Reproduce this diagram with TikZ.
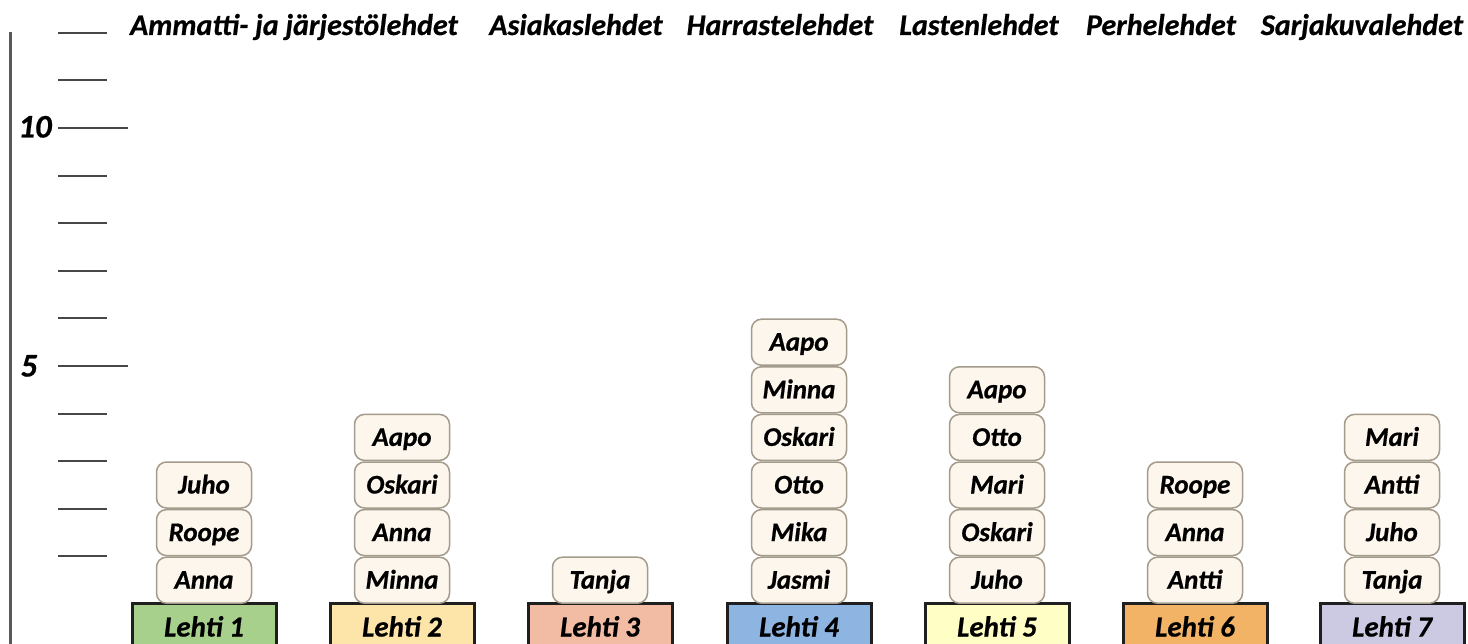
\documentclass[tikz,border=0pt]{standalone}
\usepackage{fontspec}
\setmainfont{Carlito}[BoldItalicFeatures={FakeBold=0.6}]
\definecolor{namefill}{HTML}{FDF6EC}
\definecolor{nameborder}{HTML}{A39B8B}
\definecolor{cA}{HTML}{A8D08D}
\definecolor{cB}{HTML}{FDE4A8}
\definecolor{cC}{HTML}{F2BBA3}
\definecolor{cD}{HTML}{8EB4E2}
\definecolor{cE}{HTML}{FFFEC4}
\definecolor{cF}{HTML}{F2B367}
\definecolor{cG}{HTML}{CCC9E2}
\begin{document}
\begin{tikzpicture}[x=1pt,y=-1pt,
  namebox/.style={draw=nameborder, fill=namefill, rounded corners=10pt, line width=1.5pt,
    minimum width=95pt, minimum height=46pt, inner sep=0pt, text height=17pt, text depth=0pt,
    font=\fontsize{27}{30}\selectfont\bfseries\itshape},
  lehtibox/.style={draw=black!88, line width=3pt, minimum width=144pt, minimum height=48pt,
    inner sep=0pt, text height=19pt, text depth=0pt,
    font=\fontsize{29}{32}\selectfont\bfseries\itshape},
  header/.style={anchor=base, inner sep=0pt, font=\fontsize{30}{33}\selectfont\bfseries\itshape},
  tickline/.style={draw=black!72, line width=2pt},
  axisline/.style={draw=black!65, line width=3pt},
  ticklabel/.style={inner sep=0pt, text height=21pt, text depth=0pt,
    font=\fontsize{33}{36}\selectfont\bfseries\itshape}]
\clip (0,0) rectangle (1468,644);
\fill[white] (0,0) rectangle (1468,644);
% axis
\coordinate (axtop) at (10,32);
\coordinate (axbot) at (10,644);
\draw[axisline] (axtop) -- (axbot);
% ticks
\foreach \v in {1,2,3,4,6,7,8,9,11,12}{
  \pgfmathsetmacro{\ty}{round(604-47.6*\v)}
  \draw[tickline] (58,\ty) -- (107,\ty);
}
\foreach \v in {5,10}{
  \pgfmathsetmacro{\ty}{round(604-47.6*\v)}
  \draw[tickline] (58,\ty) -- (128,\ty);
}
\node[ticklabel] (t10) at (35,127) {10};
\node[ticklabel] (t5) at (29,366) {5};
% headers
\node[header] (h1) at (294,35) {Ammatti- ja järjestölehdet};
\node[header] (h2) at (576,35) {Asiakaslehdet};
\node[header] (h3) at (780,35) {Harrastelehdet};
\node[header] (h4) at (979,35) {Lastenlehdet};
\node[header] (h5) at (1161,35) {Perhelehdet};
\node[header] (h6) at (1362,35) {Sarjakuvalehdet};
% columns
\foreach \xc/\col/\names [count=\i] in {
  204/cA/{Anna,Roope,Juho},
  402/cB/{Minna,Anna,Oskari,Aapo},
  600/cC/{Tanja},
  799/cD/{Jasmi,Mika,Otto,Oskari,Minna,Aapo},
  997/cE/{Juho,Oskari,Mari,Otto,Aapo},
  1195/cF/{Antti,Anna,Roope},
  1392/cG/{Tanja,Juho,Antti,Mari}}{
  \node[lehtibox, fill=\col] (l\i) at (\xc,627) {Lehti \i};
  \foreach \n [count=\k] in \names {
    \node[namebox] (n\i-\k) at (\xc,{604-47.6*(\k-0.5)}) {\n};
  }
}
\end{tikzpicture}
\end{document}
